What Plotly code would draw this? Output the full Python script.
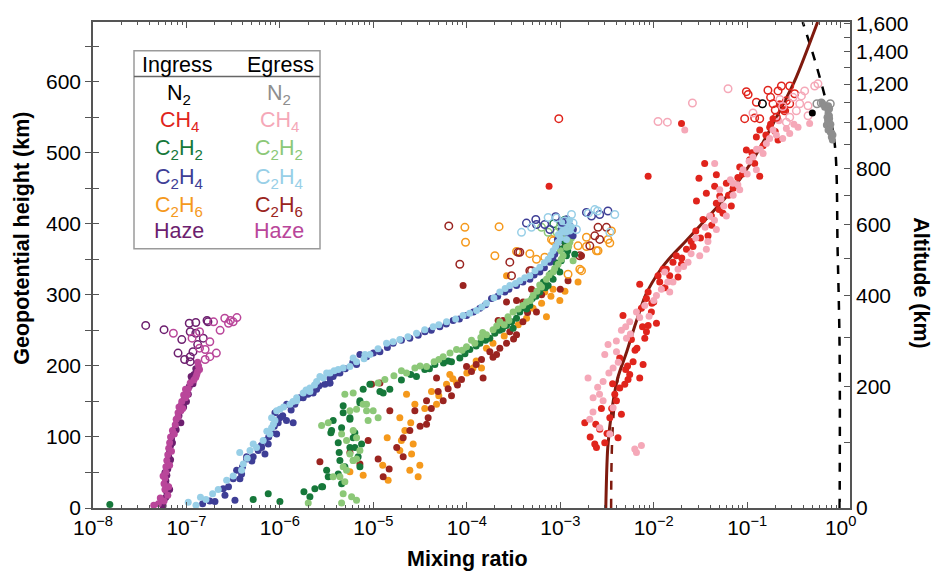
import plotly.graph_objects as go

# ---------------- data (log10 mixing ratio, geopotential height km) ----------------
haze_in_lx = [-7.27,-7.22,-7.21,-7.20,-7.22,-7.21,-7.20,-7.19,-7.19,-7.18,-7.17,-7.16,-7.14,-7.12,-7.10,-7.08,-7.06,-7.05,-7.02,-7.00,-6.97,-6.94,-6.92,-6.90,-7.06,-7.00,-6.93,
              -7.24,-7.18,-7.23,-7.17,-7.15,-7.11,-7.03,-6.98,-6.95,-7.25]
haze_in_y  = [8,15,22,30,38,46,55,63,72,80,88,97,105,113,121,130,138,146,155,163,171,180,188,196,120,150,175,
              12,26,50,68,92,110,142,160,185,3]
haze_eg_lx = [-7.35,-7.30,-7.24,-7.20,-7.23,-7.24,-7.23,-7.22,-7.22,-7.21,-7.20,-7.19,-7.18,-7.17,-7.15,-7.12,-7.11,-7.09,-7.08,-7.05,-7.03,-7.01,-6.96,-6.90,-6.88,-6.87,-6.88,-6.99,-7.04,
              -7.28,-7.19,-7.25,-7.18,-7.16,-7.13,-7.09,-7.06,-7.01,-6.98,-6.92,-6.86,-6.89]
haze_eg_y  = [4,6,10,18,26,34,42,50,58,67,75,84,92,100,109,117,125,134,142,150,159,167,176,184,192,200,205,160,140,
              14,30,45,60,80,104,128,137,155,168,180,195,188]
haze_in_open_lx = [-7.436,-7.24,-7.05,-6.97,-6.90,-6.96,-6.90,-7.09,-7.02,-6.96,-6.93,-6.78,-6.77,-6.82,-6.96,-6.88]
haze_in_open_y  = [257,251,237,260,261,248,246,218,209,213,220,264,262,239,206,230]
haze_eg_open_lx = [-7.14,-6.94,-6.86,-6.80,-6.75,-6.71,-6.64,-6.59,-6.53,-6.50,-6.46,-6.55,-6.68,-6.75,-6.80,-6.86]
haze_eg_open_y  = [246,239,225,223,234,262,250,267,264,262,268,260,218,213,209,248]

c2h4_in_lx = [-6.827,-6.588,-6.481,-6.5,-6.463,-6.356,-6.286,-6.232,-6.196,-6.16,-6.089,-6.0,-5.93,-6.053,-5.858,-5.84,-5.751,-5.607,-5.519,-5.465,-5.394,-5.751,-5.465,-5.358,-5.144,-4.93,-4.788,-4.61,-4.449,-4.289,-4.147,-4.003,-3.861,-3.736,-3.594,-3.468,-3.326,-3.219,-3.112,-3.059,-3.041,-3.005,-2.952,-2.917,-2.863,
              -6.695,-6.606,-6.428,-6.41,-6.356,-6.16,-6.125,-6.035,-6.018,-5.928,-5.786,-5.644,-5.465,-5.43,-5.18,-5.073,
              -2.95,-2.99,-2.90,-3.03,-2.93,-2.86,
              -6.75,-6.55,-6.40,-6.30,-6.20,-6.12,-6.06,-5.97,-5.88,-5.70,-5.58,-5.30,-5.22,-5.00,-4.85,-4.70,-4.52,-4.38,-4.22,-4.08,-3.93,-3.80,-3.67,-3.55,-3.40,-3.28,-3.17,-3.08,-3.02]
c2h4_in_y  = [6,18,11,41,53,72,72,81,85,95,106,127,123,134,120,146,157,167,174,183,190,155,176,190,216,220,232,239,248,255,264,271,281,295,304,313,322,332,346,357,369,383,392,385,383,
              9,27,41,48,69,76,90,104,120,146,155,162,176,185,202,213,
              401,393,398,378,407,392,
              10,30,58,66,88,100,115,130,138,160,172,196,205,218,226,236,243,250,259,266,276,286,298,308,318,328,338,352,375]
c2h4_eg_lx = [-6.981,-6.898,-6.791,-6.66,-6.57,-6.41,-6.392,-6.286,-6.179,-6.107,-6.089,-6.053,-6.0,-5.893,-5.821,-5.751,-5.679,-5.607,-5.537,-5.465,-5.376,-5.679,-5.323,-5.18,-5.037,-4.859,-4.717,-4.538,-4.36,-4.217,-4.04,-3.896,-3.79,-3.647,-3.54,-3.433,-3.326,-3.219,-3.13,-3.077,-3.023,-2.987,-2.97,-2.934,-2.898,
              -6.43,-6.32,-6.089,-6.035,-5.821,-5.572,-5.5,-5.251,-5.216,-5.09,
              -2.95,-2.92,-2.96,-2.90,-2.99,-3.02,-2.94,-2.88,
              -6.85,-6.72,-6.50,-6.35,-6.25,-6.14,-6.07,-5.96,-5.86,-5.72,-5.63,-5.42,-5.10,-4.95,-4.79,-4.63,-4.45,-4.30,-4.12,-3.97,-3.84,-3.71,-3.59,-3.48,-3.38,-3.27,-3.17,-3.10,-3.05,-3.00]
c2h4_eg_y  = [8,4,12,26,39,53,62,90,95,104,113,123,139,146,155,162,169,178,183,190,195,164,197,206,216,232,237,246,255,262,271,278,288,304,313,320,327,339,350,362,374,388,397,378,390,
              78,81,127,137,151,185,190,199,211,216,
              395,400,403,405,398,385,388,396,
              15,20,45,70,85,108,118,142,150,166,173,193,210,224,234,241,251,258,266,274,283,296,309,316,324,334,345,356,368,380]
c2h4_in_open_lx = [-3.362,-3.262,-3.255,-3.166,-3.112,-2.72,-2.666,-2.578,-2.49,-3.05,-2.98]
c2h4_in_open_y  = [401,406,399,399,392,416,411,413,418,410,402]
c2h4_eg_open_lx = [-3.415,-3.308,-3.13,-3.04,-2.952,-2.863,-2.827,-2.631,-2.417,-2.47,-2.70,-2.60,-2.88]
c2h4_eg_open_y  = [388,395,409,408,404,401,392,420,413,388,415,418,413]

c2h2_in_lx = [-7.82,-6.286,-6.125,-6.0,-5.743,-5.679,-5.626,-5.543,-5.5,-5.483,-5.455,-5.43,-5.376,-5.366,-5.34,-5.323,-5.323,-5.305,-5.251,-5.216,-5.198,-5.144,-5.126,-5.554,-5.447,-5.358,-5.376,-5.34,-5.251,-5.198,-5.144,-5.251,-5.163,-5.144,-5.037,-4.895,-5.109,
              -4.93,-4.824,-4.539,-4.342,-4.164,-4.075,-3.968,-3.754,-3.575,-3.468,-3.433,-3.326,-3.219,-3.13,-3.077,-3.005,-2.934,-2.845,-3.505,-3.65,-3.40,-3.30,-3.18,-3.10,-3.05,-2.98,-2.96,-4.45,-4.25,-3.86,-3.70,
              -4.70,-4.60,-4.40,-4.20,-4.02,-3.90,-3.80,-3.62,-3.52,-3.36,-3.26,-3.16,-3.04,-2.99,-2.92]
c2h2_in_y  = [5,12,20,9,23,16,27,30,53,44,106,123,92,78,113,144,134,58,125,99,106,148,90,30,109,67,48,34,85,85,151,127,72,58,174,162,167,
              164,167,185,202,206,211,223,239,257,267,276,285,304,313,322,332,355,357,253,250,282,295,318,330,345,365,375,195,204,232,246,
              180,188,196,207,217,228,236,252,262,280,298,310,338,348,362]
c2h2_eg_lx = [-5.697,-5.34,-5.18,-5.43,-5.323,-5.251,-5.216,-5.18,-5.216,-5.109,-5.073,-5.056,-5.305,-5.554,-4.949,-5.483,-5.34,-5.287,-5.323,-5.233,-5.216,-5.18,-5.251,-5.073,-5.002,-5.144,-5.216,-5.287,-5.358,-5.305,-5.18,
              -4.877,-4.645,-4.556,-4.431,-4.253,-4.11,-4.003,-3.914,-3.79,-3.719,-3.647,-3.559,-3.505,-3.361,-3.291,-3.201,-3.148,-3.077,-3.023,-2.97,-2.934,-2.898,-2.863,-3.60,-3.45,-3.25,-4.78,-4.35,-3.85,-3.00,-2.95,
              -4.95,-4.70,-4.50,-4.30,-4.18,-4.05,-3.95,-3.83,-3.68,-3.55,-3.40,-3.32,-3.22,-3.12,-3.06,-2.99,-2.91,-2.88]
c2h2_eg_y  = [7,7,11,44,58,76,67,99,109,146,137,123,160,116,127,120,104,95,20,16,162,139,137,146,137,81,67,53,44,37,69,
              181,190,197,199,213,223,227,232,244,251,262,269,276,290,299,311,322,332,343,355,367,374,348,258,280,305,186,206,240,362,385,
              176,193,200,209,218,222,236,247,256,264,285,292,314,328,337,350,368,380]
c2h2_in_open_lx = [-3.07,-2.95]
c2h2_in_open_y  = [400,405]
c2h2_eg_open_lx = [-3.201,-3.005,-3.034,-3.13]
c2h2_eg_open_y  = [395,395,388,388]

c2h6_in_lx = [-5.251,-4.842,-4.852,-4.717,-4.663,-4.61,-4.591,-4.574,-4.521,-4.503,-4.717,-4.645,-4.556,-4.378,-4.324,-4.217,-4.182,-4.11,-3.933,-3.843,-3.79,-3.647,-3.361,-3.291,-3.166,-3.148,-3.077,-3.005,-2.81,-3.575,-5.109,
              -4.90,-4.70,-4.60,-4.45,-4.30,-4.15,-4.00,-3.90,-3.72,-3.60,-3.45,-3.20,-3.10,-2.95]
c2h6_in_y  = [51,39,99,81,109,53,76,90,44,60,127,160,146,164,146,174,188,176,197,197,225,253,267,281,304,269,308,292,318,327,46,
              60,95,120,140,158,182,190,207,232,242,258,288,298,305]
c2h6_eg_lx = [-5.572,-5.056,-5.019,-4.93,-4.949,-4.895,-4.831,-4.824,-4.681,-4.681,-4.61,-4.556,-4.431,-4.414,-4.431,-4.324,-4.307,-4.253,-4.164,-4.057,-4.003,-3.95,-3.843,-3.826,-3.754,-3.682,-3.647,-3.575,-3.54,-3.468,-3.665,-3.612,-3.575,-3.468,-3.398,-3.308,-3.255,-4.04,-2.917,-2.773,-5.251,-5.144,
              -4.75,-4.50,-4.38,-4.20,-4.10,-3.90,-3.72,-3.50,-3.40,-3.35,-3.20,-3.00]
c2h6_eg_y  = [65,95,174,176,69,44,55,137,72,99,109,137,151,127,118,183,164,151,158,181,199,192,209,183,220,216,225,232,248,244,264,264,290,292,290,308,276,313,320,355,78,62,
              85,115,140,168,173,202,212,238,262,275,300,308]
c2h6_in_open_lx = [-4.021,-4.014,-3.655,-3.7,-3.326,-3.255,-3.077,-2.81,-2.773,-2.613,-2.453,-2.47,-2.88,-3.166,-2.72,-3.468,-2.791,-2.917,-2.596,-2.72,-2.49,-3.094]
c2h6_in_open_y  = [395,374,396,355,358,350,376,369,334,362,390,373,385,353,381,361,336,329,362,368,378,378]
c2h6_eg_open_lx = [-4.193,-4.075,-3.54,-3.451,-3.326,-2.952,-2.934,-2.791,-2.684,-2.631,-2.578,-2.506,-2.596,-3.522,-3.308,-3.433]
c2h6_eg_open_y  = [397,343,346,360,334,390,371,355,369,383,378,395,395,327,334,360]

ch4_in_lx = [-2.738,-2.631,-2.613,-2.578,-2.524,-2.47,-2.417,-2.399,-2.382,-2.346,-2.364,-2.31,-2.275,-2.257,-2.15,-2.114,-2.221,-2.364,-2.329,-2.239,-2.096,-2.078,-2.06,-2.132,-2.078,-2.025,-1.971,-2.15,-2.06,-1.936,-1.829,-1.74,-1.9,-1.703,-1.954,
             -2.06,-1.455,-1.516,-1.33,-1.543,-1.437,-1.348,-1.294,-1.223,-1.17,-1.08,-1.009,-0.973,-0.902,-0.866,-0.866,-0.759,-0.724,-0.67,-0.652,-1.419,-1.383,-1.65,-1.758,-1.865,-1.259,-1.33,-1.473,-1.794,-1.703,-3.12,
             -1.6,-1.55,-1.2,-1.1,-0.95,-0.8,-0.75,-0.6,-2.45,-2.2,-2.0,-2.3,-2.5,-2.62,
             -2.68,-2.56,-2.44,-2.28,-2.18,-2.12,-2.02,-1.88,-1.70,-1.58,-1.50,-1.38,-1.30,-1.15,-1.05,-0.92,-0.83,-0.70]
ch4_in_y  = [120,90,85,111,92,127,160,151,99,132,169,174,181,188,183,202,206,211,271,237,239,248,257,281,295,276,260,315,304,318,327,325,336,343,327,
             467,485,464,469,432,443,453,439,457,425,480,504,490,522,532,467,536,548,518,569,383,411,364,355,336,415,429,406,346,541,453,
             375,390,440,465,500,525,540,560,140,222,290,195,105,118,
             100,140,175,200,225,255,288,310,352,368,380,398,420,450,470,485,510,530]
ch4_eg_lx = [-2.703,-2.649,-2.685,-2.578,-2.542,-2.542,-2.524,-2.489,-2.435,-2.399,-2.346,-2.257,-2.292,-2.185,-2.096,-1.971,-1.918,-1.882,-1.829,-1.794,-2.185,-2.132,-2.203,-2.47,-2.435,
             -1.668,-1.348,-1.294,-1.152,-1.045,-0.938,-0.902,-0.795,-0.724,-0.581,-0.545,-0.456,-0.332,-1.437,-1.508,-1.633,-1.74,-1.33,-1.223,-1.401,-1.08,-0.83,-0.688,
             -1.55,-1.45,-1.25,-1.15,-1.0,-0.9,-0.62,-2.6,-2.38,-2.25,-2.05,
             -2.65,-2.58,-2.48,-2.40,-2.30,-2.15,-2.00,-1.85,-1.68,-1.60,-1.42,-1.35,-1.28,-1.18,-1.10,-0.98,-0.86,-0.76,-0.66,-0.50]
ch4_eg_y  = [183,155,125,113,151,178,216,230,197,220,250,262,239,276,285,299,308,332,304,318,78,88,83,104,141,
             532,485,448,457,476,494,476,513,532,534,527,536,541,364,355,346,336,392,411,411,448,499,525,
             380,395,425,440,470,505,520,170,205,245,270,
             135,160,190,235,255,268,292,318,340,358,375,405,435,462,455,488,505,520,545,540]
ch4_in_open_lx = [-1.009,-0.92,-0.902,-0.778,-0.67,-0.724,-0.634,-0.545,-0.492,-0.599,-0.545,-0.688,-0.866,-1.027,-0.581,-3.016,-0.99,-0.75,-0.70]
ch4_in_open_y  = [586,549,571,588,587,569,594,594,583,559,569,550,548,548,573,548,582,578,560]
ch4_eg_open_lx = [-1.205,-1.586,-1.954,-1.854,-0.938,-0.51,-0.438,-0.385,-0.349,-0.278,-0.243,-0.349,-0.474,-0.545,-0.42,-0.581,-0.65,-0.62]
ch4_eg_open_y  = [590,570,544,543,556,578,569,587,566,594,597,552,559,550,580,543,575,565]

n2_in_lx = [-0.303]
n2_in_y  = [556]
n2_in_open_lx = [-0.837]
n2_in_open_y  = [569]
n2_eg_lx = [-0.196,-0.153,-0.135,-0.146,-0.125,-0.118,-0.111,-0.1,-0.089,-0.171,-0.118,-0.135,-0.153,-0.135,-0.082,-0.118,-0.14,-0.12,-0.105,-0.095,-0.13]
n2_eg_y  = [570,566,559,550,543,536,529,522,518,564,562,555,539,532,525,548,545,552,540,528,566]
n2_eg_open_lx = [-0.254,-0.207,-0.111]
n2_eg_open_y  = [569,570,569]

# model profiles
ch4_model_lx = [-2.513,-2.492,-2.449,-2.385,-2.289,-2.193,-2.086,-1.925,-1.807,-1.668,-1.444,-1.166,-0.898,-0.706,-0.492,-0.246]
ch4_model_y  = [0,85,137,183,220,260,300,336,355,374,406,447,499,545,601,684]
ch4_model2_lx = [-2.456,-2.452,-2.44,-2.41,-2.38]
ch4_model2_y  = [0,60,110,160,185]
n2_model_lx = [-0.011,-0.011,-0.032,-0.064,-0.15,-0.278,-0.406]
n2_model_y  = [0,220,360,513,569,631,684]

x_tick_exp = [-8,-7,-6,-5,-4,-3,-2,-1,0]
y_ticks = [0,100,200,300,400,500,600]
alt_ticks = [0,200,400,600,800,1000,1200,1400,1600]
alt_minor = [100,300,500,700,900,1100,1300,1500]
R_PLUTO = 1187.0

# ---------------- colours ----------------
C = dict(
    n2_in="#000000", n2_eg="#8e8e8e",
    ch4_in="#e0241c", ch4_eg="#f5a8b8",
    c2h2_in="#16783a", c2h2_eg="#8cc878",
    c2h4_in="#3e3e96", c2h4_eg="#98cfe7",
    c2h6_in="#f5991c", c2h6_eg="#9a2420",
    haze_in="#6d1f6f", haze_eg="#b9469a",
    model="#7f1a0e",
)

def p(v):
    return [10 ** e for e in v]

fig = go.Figure()

# model lines
fig.add_trace(go.Scatter(x=p(n2_model_lx), y=n2_model_y, mode="lines", line=dict(color="black", width=2.5, dash="dash", shape="spline"), hoverinfo="skip"))
fig.add_trace(go.Scatter(x=p(ch4_model2_lx), y=ch4_model2_y, mode="lines", line=dict(color=C["model"], width=2.5, dash="dash", shape="spline"), hoverinfo="skip"))
fig.add_trace(go.Scatter(x=p(ch4_model_lx), y=ch4_model_y, mode="lines", line=dict(color=C["model"], width=3, shape="spline", smoothing=0.8), hoverinfo="skip"))

def filled(lx, y, col):
    fig.add_trace(go.Scatter(x=p(lx), y=y, mode="markers", marker=dict(size=7, color=col, line=dict(width=0))))

def opened(lx, y, col):
    fig.add_trace(go.Scatter(x=p(lx), y=y, mode="markers", marker=dict(size=7.5, symbol="circle-open", color=col, line=dict(width=1.5, color=col))))

filled(haze_in_lx, haze_in_y, C["haze_in"])
filled(haze_eg_lx, haze_eg_y, C["haze_eg"])
opened(haze_in_open_lx, haze_in_open_y, C["haze_in"])
opened(haze_eg_open_lx, haze_eg_open_y, C["haze_eg"])

filled(c2h6_in_lx, c2h6_in_y, C["c2h6_in"])
filled(c2h6_eg_lx, c2h6_eg_y, C["c2h6_eg"])
opened(c2h6_in_open_lx, c2h6_in_open_y, C["c2h6_in"])
opened(c2h6_eg_open_lx, c2h6_eg_open_y, C["c2h6_eg"])

filled(c2h2_in_lx, c2h2_in_y, C["c2h2_in"])
filled(c2h2_eg_lx, c2h2_eg_y, C["c2h2_eg"])
opened(c2h2_in_open_lx, c2h2_in_open_y, C["c2h2_in"])
opened(c2h2_eg_open_lx, c2h2_eg_open_y, C["c2h2_eg"])

filled(c2h4_in_lx, c2h4_in_y, C["c2h4_in"])
filled(c2h4_eg_lx, c2h4_eg_y, C["c2h4_eg"])
opened(c2h4_in_open_lx, c2h4_in_open_y, C["c2h4_in"])
opened(c2h4_eg_open_lx, c2h4_eg_open_y, C["c2h4_eg"])

filled(ch4_in_lx, ch4_in_y, C["ch4_in"])
filled(ch4_eg_lx, ch4_eg_y, C["ch4_eg"])
opened(ch4_in_open_lx, ch4_in_open_y, C["ch4_in"])
opened(ch4_eg_open_lx, ch4_eg_open_y, C["ch4_eg"])

filled(n2_eg_lx, n2_eg_y, C["n2_eg"])
opened(n2_eg_open_lx, n2_eg_open_y, C["n2_eg"])
filled(n2_in_lx, n2_in_y, C["n2_in"])
opened(n2_in_open_lx, n2_in_open_y, C["n2_in"])

# dummy traces so the overlay axes render
fig.add_trace(go.Scatter(x=[None], y=[None], yaxis="y2", hoverinfo="skip"))
fig.add_trace(go.Scatter(x=[None], y=[None], yaxis="y3", hoverinfo="skip"))

FONT = "Liberation Sans, Arial, Helvetica, sans-serif"
AX = "#555555"
YR = [0, 684]
TF = 21

xminor = [k * 10.0 ** e for e in range(-8, 0) for k in range(2, 10)]
geo = lambda z: z * R_PLUTO / (R_PLUTO + z)
ymin = [50, 150, 250, 350, 450, 550, 650]

fig.update_layout(
    width=935, height=573, showlegend=False,
    margin=dict(l=93, r=85, t=17, b=65),
    paper_bgcolor="white", plot_bgcolor="white",
    font=dict(family=FONT, size=TF, color="black"),
    xaxis=dict(type="log", range=[-8, 0.1],
               tickmode="array", tickvals=[10.0 ** e for e in x_tick_exp],
               ticktext=["10<sup>−%d</sup>" % -e if e < 0 else "10<sup>0</sup>" for e in x_tick_exp],
               ticks="inside", ticklen=6, tickwidth=1.3, tickcolor=AX,
               minor=dict(tickmode="array", tickvals=xminor, ticks="inside", ticklen=3.5, tickwidth=1.1, tickcolor=AX),
               showline=True, linecolor=AX, linewidth=1.6, mirror="ticks",
               showgrid=False, zeroline=False, tickfont=dict(size=TF)),
    yaxis=dict(range=YR, tickmode="array", tickvals=y_ticks,
               ticks="outside", ticklen=6, tickwidth=1.3, tickcolor=AX,
               minor=dict(tickmode="array", tickvals=ymin, ticks="outside", ticklen=6, tickwidth=1.3, tickcolor=AX),
               showline=True, linecolor=AX, linewidth=1.6, showgrid=False, zeroline=False,
               tickfont=dict(size=TF)),
    yaxis3=dict(range=YR, overlaying="y", side="left", anchor="x", tickmode="array", tickvals=y_ticks,
                ticks="inside", ticklen=6, tickwidth=1.3, tickcolor=AX, showticklabels=False,
                minor=dict(tickmode="array", tickvals=ymin, ticks="inside", ticklen=6, tickwidth=1.3, tickcolor=AX),
                showline=False, showgrid=False, zeroline=False),
    yaxis2=dict(range=YR, overlaying="y", side="right", anchor="x", tickmode="array",
                tickvals=[geo(z) for z in alt_ticks],
                ticktext=["{:,}".format(z) for z in alt_ticks],
                ticks="inside", ticklen=6, tickwidth=1.3, tickcolor=AX,
                minor=dict(tickmode="array", tickvals=[geo(z) for z in alt_minor], ticks="inside", ticklen=6, tickwidth=1.3, tickcolor=AX),
                showline=True, linecolor=AX, linewidth=1.6, showgrid=False, zeroline=False,
                tickfont=dict(size=TF)),
)

def px2x(px):
    return (px - 93) / 757.0

def py2y(py):
    return (508 - py) / 491.0

def A(text, px, py, size=21, color="black", angle=0):
    return dict(text=text, x=px2x(px), y=py2y(py), xref="paper", yref="paper", xanchor="center", yanchor="middle",
                textangle=angle, showarrow=False, font=dict(size=size, color=color))

ann = []
ann.append(A("<b>Geopotential height (km)</b>", 22, 236, size=21.5, angle=-90))
ann.append(A("<b>Mixing ratio</b>", 467, 560, size=21.5))
ann.append(A("<b>Altitude (km)</b>", 921, 280, size=21.5, angle=90))

# legend table
ann.append(A("Ingress", 177, 60, size=21.5))
ann.append(A("Egress", 280, 60, size=21.5))
rows = [
    ("N<sub>2</sub>", "n2", 87),
    ("CH<sub>4</sub>", "ch4", 115),
    ("C<sub>2</sub>H<sub>2</sub>", "c2h2", 143),
    ("C<sub>2</sub>H<sub>4</sub>", "c2h4", 172),
    ("C<sub>2</sub>H<sub>6</sub>", "c2h6", 200),
    ("Haze", "haze", 228),
]
for txt, key, py in rows:
    off = 3 if "<sub>" in txt else 0
    ann.append(A(txt, 179, py + off, size=21.5, color=C[key + "_in"]))
    ann.append(A(txt, 279, py + off, size=21.5, color=C[key + "_eg"]))
fig.update_layout(annotations=ann)

fig.add_shape(type="rect", xref="paper", yref="paper", x0=px2x(134), x1=px2x(320), y0=py2y(246), y1=py2y(46),
              line=dict(color="#9a9a9a", width=1.5), fillcolor="rgba(0,0,0,0)")
fig.add_shape(type="line", xref="paper", yref="paper", x0=px2x(134), x1=px2x(320), y0=py2y(72), y1=py2y(72),
              line=dict(color="#666666", width=1.5))

fig.write_html("out.html")
